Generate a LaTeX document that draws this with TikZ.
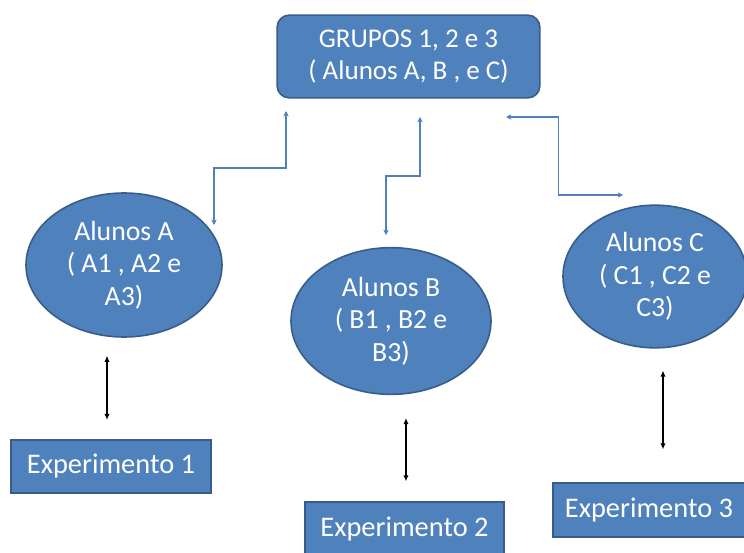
\documentclass[tikz,border=0pt]{standalone}
\usepackage{fontspec}
\setmainfont{Carlito}
\usetikzlibrary{shapes.geometric,arrows.meta,calc}
\definecolor{fillblue}{HTML}{4F81BD}
\definecolor{edgeblue}{HTML}{385D8A}

\tikzset{
    txt/.style={text=white, font=\fontsize{20.8}{24.5}\selectfont, align=center, inner sep=0pt},
    grupo/.style={txt, font=\fontsize{20.3}{24}\selectfont, draw=edgeblue, fill=fillblue, line width=1.2pt,
        rounded corners=9pt, minimum width=197pt, minimum height=62pt},
    alunos/.style={txt, ellipse, draw=edgeblue, fill=fillblue, line width=1.2pt},
    expbox/.style={txt, font=\fontsize{21.3}{24}\selectfont, draw=edgeblue, fill=fillblue, line width=1.5pt,
        minimum height=40pt},
    link/.style={draw=fillblue, line width=0.8pt, {Stealth[length=4pt,width=4pt]}-{Stealth[length=4pt,width=4pt]}},
    pair/.style={draw=black, line width=0.8pt, {Latex[length=4.5pt,width=4pt]}-{Latex[length=4.5pt,width=4pt]}},
    zigv/.style={to path={|- ($(\tikztostart)!.5!(\tikztotarget)$) -| (\tikztotarget)}},
    zigh/.style={to path={-| ($(\tikztostart)!.45!(\tikztotarget)$) |- (\tikztotarget)}}
}

\begin{document}
\begin{tikzpicture}[x=0.75pt, y=-0.75pt]
    \useasboundingbox (0,0) rectangle (744,553);
    \clip (0,0) rectangle (744,553);

    % top box
    \node[grupo] (grp) at (408.5,56.5) {GRUPOS 1, 2 e 3\\( Alunos A, B , e C)};

    % students
    \node[alunos, minimum width=147pt, minimum height=108pt] (ela) at (124,265) {Alunos A\\( A1 , A2 e\\A3)};
    \node[alunos, minimum width=150pt, minimum height=110pt] (elb) at (391,321) {Alunos B\\( B1 , B2 e\\B3)};
    \node[alunos, minimum width=138pt, minimum height=107pt] (elc) at (655,276.5) {Alunos C\\( C1 , C2 e\\C3)};

    % experiments
    \node[expbox, minimum width=150pt] (exp1) at (111,466.5) {Experimento 1};
    \node[expbox, minimum width=149pt] (exp2) at (404.5,529) {Experimento 2};
    \node[expbox, minimum width=144pt] (exp3) at (649,510) {Experimento 3};

    % link ends
    \coordinate (ga) at (286,111);
    \coordinate (gb) at (420,117);
    \coordinate (gc) at (506,117);
    \coordinate (ea) at (214,225);
    \coordinate (eb) at (386,235);
    \coordinate (ec) at (623,195);

    \draw[link] (ga) to[zigv] (ea);
    \draw[link] (gb) to[zigv] (eb);
    \draw[link] (gc) to[zigh] (ec);

    % student <-> experiment
    \draw[pair, shorten <=13.5pt, shorten >=14.25pt] ([xshift=-3pt]exp1.north |- ela.south) -- ([xshift=-3pt]exp1.north);
    \draw[pair, shorten <=17.25pt, shorten >=15pt] ([xshift=1.1pt]exp2.north |- elb.south) -- ([xshift=1.1pt]exp2.north);
    \draw[pair, shorten <=16.5pt, shorten >=24.75pt] ([xshift=10.5pt]exp3.north |- elc.south) -- ([xshift=10.5pt]exp3.north);
\end{tikzpicture}
\end{document}
